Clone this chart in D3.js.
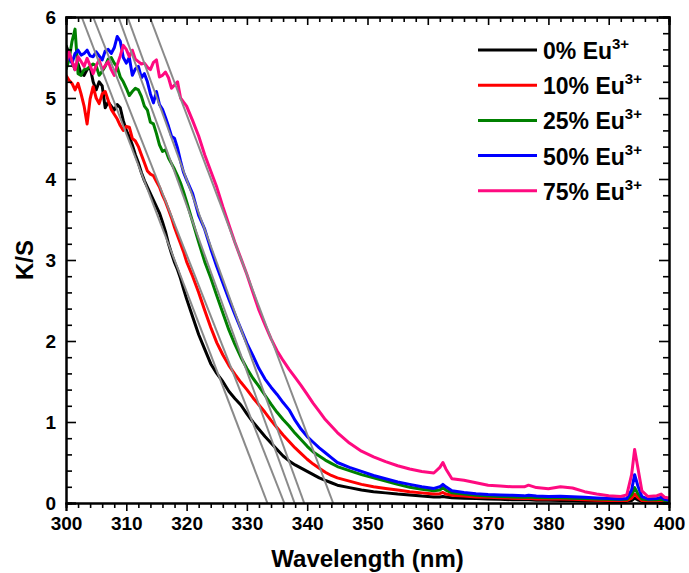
<!DOCTYPE html>
<html lang="en">
<head>
    <meta charset="UTF-8">
    <script src="https://d3js.org/d3.v7.min.js"></script>
    <style>
        body { margin: 0; background: white; }
        text { font-family: Arial, "Liberation Sans", sans-serif; font-weight: bold; }
    </style>
</head>
<body>
    <svg id="chart" width="689" height="573"></svg>

    <script>
        // Wavelength grid (nm)
        const wl = [300,300.5,301,301.5,302,302.5,303,303.5,304,304.5,305,305.5,306,306.5,307,307.5,308,308.5,309,309.5,
                    310,310.5,311,311.5,312,312.5,313,313.5,314,314.5,315,315.5,316,316.5,317,317.5,318,318.5,319,319.5,320,
                    321,322,323,324,325,326,327,328,329,330,331,332,333,334,335,336,337,338,339,340,341,342,343,344,345,
                    347,349,351,353,355,357,359,361,362,362.5,363,364,366,368,370,372,374,376,
                    376.7,378,380,382,384,386,388,390,392,393,393.8,394.3,394.8,395.5,396.5,398,398.7,399.3,400];

        // K/S values, one array per Eu3+ content
        const ks0 = [5.65,5.55,5.45,5.35,5.42,5.3,5.28,5.35,5.38,5.2,5.1,5.2,5.15,4.88,4.95,4.9,4.85,4.92,4.88,4.72,
                     4.6,4.52,4.42,4.3,4.2,4.08,3.98,3.9,3.82,3.74,3.66,3.58,3.47,3.35,3.2,3.08,2.97,2.88,2.77,2.64,2.52,
                     2.3,2.08,1.9,1.72,1.6,1.5,1.38,1.29,1.21,1.1,1.0,0.91,0.82,0.74,0.66,0.58,0.52,0.47,0.43,0.39,0.35,0.31,0.28,0.25,0.22,
                     0.19,0.16,0.14,0.125,0.11,0.1,0.085,0.075,0.075,0.08,0.075,0.065,0.06,0.055,0.05,0.045,0.04,0.04,
                     0.04,0.035,0.035,0.03,0.03,0.025,0.025,0.02,0.02,0.02,0.03,0.06,0.04,0.02,0.015,0.015,0.02,0.015,0.01];
        const ks10 = [5.28,5.22,5.18,5.1,5.18,5.05,4.9,4.68,4.99,5.14,5.0,4.93,5.05,5.08,4.97,4.86,4.8,4.74,4.66,4.6,
                      4.65,4.64,4.5,4.47,4.4,4.3,4.2,4.1,4.06,4.04,3.97,3.9,3.8,3.72,3.62,3.52,3.4,3.3,3.2,3.1,2.98,
                      2.8,2.6,2.38,2.17,1.98,1.83,1.7,1.59,1.49,1.4,1.3,1.21,1.12,1.02,0.93,0.84,0.76,0.68,0.61,0.54,0.48,0.43,0.38,0.34,0.31,
                      0.27,0.23,0.2,0.18,0.16,0.14,0.125,0.11,0.115,0.13,0.11,0.095,0.085,0.075,0.07,0.065,0.06,0.055,
                      0.06,0.05,0.05,0.05,0.045,0.04,0.035,0.03,0.03,0.03,0.06,0.11,0.07,0.03,0.025,0.025,0.03,0.02,0.015];
        const ks25 = [5.35,5.47,5.7,5.85,5.3,5.28,5.35,5.36,5.39,5.42,5.4,5.28,5.33,5.39,5.48,5.5,5.43,5.38,5.26,5.2,
                      5.12,5.03,5.08,5.12,5.1,5.02,4.9,4.85,4.7,4.68,4.56,4.42,4.34,4.36,4.26,4.19,4.12,4.04,3.95,3.84,3.72,
                      3.47,3.22,2.98,2.78,2.56,2.35,2.14,1.96,1.8,1.66,1.54,1.44,1.33,1.22,1.12,1.03,0.95,0.86,0.78,0.7,0.63,0.58,0.53,0.49,0.45,
                      0.4,0.35,0.31,0.27,0.23,0.195,0.17,0.15,0.16,0.19,0.16,0.125,0.11,0.095,0.085,0.08,0.075,0.07,
                      0.075,0.068,0.065,0.065,0.06,0.055,0.05,0.045,0.042,0.045,0.1,0.19,0.12,0.05,0.04,0.04,0.045,0.03,0.025];
        const ks50 = [5.55,5.5,5.43,5.55,5.59,5.53,5.55,5.59,5.52,5.51,5.57,5.52,5.47,5.58,5.6,5.55,5.62,5.76,5.7,5.5,
                      5.43,5.5,5.28,5.36,5.39,5.25,5.3,5.2,5.05,4.94,5.08,4.92,4.86,4.76,4.65,4.53,4.5,4.38,4.22,4.08,3.99,
                      3.82,3.55,3.38,3.14,2.92,2.72,2.52,2.33,2.15,1.97,1.82,1.66,1.53,1.43,1.34,1.24,1.15,1.02,0.91,0.82,0.75,0.68,0.62,0.56,0.5,
                      0.44,0.39,0.34,0.3,0.26,0.23,0.2,0.18,0.2,0.23,0.2,0.15,0.13,0.115,0.105,0.1,0.095,0.088,
                      0.095,0.085,0.08,0.082,0.078,0.07,0.062,0.055,0.05,0.055,0.16,0.35,0.22,0.08,0.05,0.055,0.07,0.045,0.035];
        const ks75 = [5.43,5.57,5.45,5.35,5.51,5.45,5.39,5.49,5.4,5.3,5.4,5.47,5.35,5.4,5.45,5.35,5.28,5.41,5.52,5.65,
                      5.6,5.51,5.59,5.48,5.45,5.42,5.43,5.38,5.35,5.44,5.47,5.26,5.28,5.32,5.25,5.12,5.16,5.2,5.0,4.95,4.9,
                      4.72,4.53,4.3,4.1,3.9,3.66,3.44,3.22,3.02,2.82,2.6,2.38,2.2,2.03,1.88,1.76,1.65,1.55,1.45,1.34,1.23,1.13,1.03,0.95,0.87,
                      0.74,0.64,0.57,0.51,0.46,0.42,0.39,0.37,0.44,0.5,0.42,0.3,0.28,0.25,0.22,0.21,0.2,0.2,
                      0.22,0.19,0.175,0.2,0.185,0.14,0.11,0.09,0.08,0.1,0.35,0.66,0.45,0.15,0.08,0.09,0.11,0.07,0.06];

        const seriesNames = ["0%", "10%", "25%", "50%", "75%"];
        const seriesColors = ["#000000", "#ff0000", "#008000", "#0000ff", "#ff0a80"];
        const seriesValues = [ks0, ks10, ks25, ks50, ks75];

        // Tangent lines: wavelength where each meets K/S = 6 and K/S = 0
        const tangentTop = [302.6, 304.5, 308.7, 310.2, 313.9];
        const tangentZero = [333.4, 336.2, 337.9, 339.5, 344.3];

        const xMajor = [300,310,320,330,340,350,360,370,380,390,400];
        const yMajor = [0,1,2,3,4,5,6];

        const width = 689, height = 573;
        const margin = { top: 17, right: 20, bottom: 70, left: 66 };

        const svg = d3.select("#chart");

        const x = d3.scaleLinear().domain([300, 400]).range([margin.left, width - margin.right]);
        const y = d3.scaleLinear().domain([0, 6]).range([height - margin.bottom, margin.top]);

        svg.append("clipPath").attr("id", "clip")
            .append("rect")
            .attr("x", margin.left).attr("y", margin.top)
            .attr("width", width - margin.left - margin.right)
            .attr("height", height - margin.top - margin.bottom);

        // Curves
        const line = d3.line().x((d, i) => x(wl[i])).y(d => y(d));
        const plot = svg.append("g").attr("clip-path", "url(#clip)");

        seriesValues.forEach((vals, k) => {
            plot.append("path")
                .datum(vals)
                .attr("fill", "none")
                .attr("stroke", seriesColors[k])
                .attr("stroke-width", 3)
                .attr("stroke-linejoin", "round")
                .attr("d", line);
        });

        // Tangent lines
        tangentTop.forEach((t, i) => {
            plot.append("line")
                .attr("x1", x(t)).attr("y1", y(6))
                .attr("x2", x(tangentZero[i])).attr("y2", y(0))
                .attr("stroke", "#8a8a8a")
                .attr("stroke-width", 2);
        });

        // Axes
        const minorX = d3.range(300, 401, 2).filter(v => v % 10 !== 0);
        const minorY = d3.range(0, 6.01, 0.2).map(v => +v.toFixed(1)).filter(v => v % 1 !== 0);

        function styleAxis(g) {
            g.select(".domain").attr("stroke-width", 2);
            g.selectAll(".tick line").attr("stroke-width", 1.6);
        }

        // bottom (ticks outward)
        svg.append("g")
            .attr("transform", `translate(0,${y(0)})`)
            .call(d3.axisBottom(x).tickValues(xMajor).tickSize(8).tickPadding(6))
            .call(styleAxis)
            .call(g => g.selectAll("text").style("font-size", "19px").attr("fill", "#000"));
        svg.append("g")
            .attr("transform", `translate(0,${y(0)})`)
            .call(d3.axisBottom(x).tickValues(minorX).tickSize(5).tickFormat(""))
            .call(styleAxis);

        // top (ticks inward)
        svg.append("g")
            .attr("transform", `translate(0,${y(6)})`)
            .call(d3.axisBottom(x).tickValues(xMajor).tickSize(8).tickFormat(""))
            .call(styleAxis);
        svg.append("g")
            .attr("transform", `translate(0,${y(6)})`)
            .call(d3.axisBottom(x).tickValues(minorX).tickSize(5).tickFormat(""))
            .call(styleAxis);

        // left (ticks inward)
        svg.append("g")
            .attr("transform", `translate(${x(300)},0)`)
            .call(d3.axisRight(y).tickValues(yMajor).tickSize(10).tickFormat(""))
            .call(styleAxis);
        svg.append("g")
            .attr("transform", `translate(${x(300)},0)`)
            .call(d3.axisRight(y).tickValues(minorY).tickSize(6).tickFormat(""))
            .call(styleAxis);
        svg.append("g").selectAll("text")
            .data(yMajor)
            .enter().append("text")
            .attr("x", x(300) - 10)
            .attr("y", d => y(d))
            .attr("dy", "0.36em")
            .attr("text-anchor", "end")
            .style("font-size", "19px")
            .text(d => d);

        // right (ticks inward)
        svg.append("g")
            .attr("transform", `translate(${x(400)},0)`)
            .call(d3.axisLeft(y).tickValues(yMajor).tickSize(10).tickFormat(""))
            .call(styleAxis);
        svg.append("g")
            .attr("transform", `translate(${x(400)},0)`)
            .call(d3.axisLeft(y).tickValues(minorY).tickSize(6).tickFormat(""))
            .call(styleAxis);

        // Axis titles
        svg.append("text")
            .attr("x", (x(300) + x(400)) / 2)
            .attr("y", 567)
            .attr("text-anchor", "middle")
            .style("font-size", "24px")
            .text("Wavelength (nm)");

        svg.append("text")
            .attr("transform", `translate(33,${(y(0) + y(6)) / 2}) rotate(-90)`)
            .attr("text-anchor", "middle")
            .style("font-size", "24px")
            .text("K/S");

        // Legend
        const legend = svg.append("g");
        seriesNames.forEach((name, i) => {
            const ly = 50 + i * 35.2;
            legend.append("line")
                .attr("x1", 478).attr("x2", 537)
                .attr("y1", ly).attr("y2", ly)
                .attr("stroke", seriesColors[i])
                .attr("stroke-width", 3);
            const t = legend.append("text")
                .attr("x", 543)
                .attr("y", ly + 9)
                .style("font-size", "23px");
            t.append("tspan").text(`${name} Eu`);
            t.append("tspan")
                .attr("dy", -10)
                .style("font-size", "15px")
                .text("3+");
        });
    </script>
</body>
</html>
